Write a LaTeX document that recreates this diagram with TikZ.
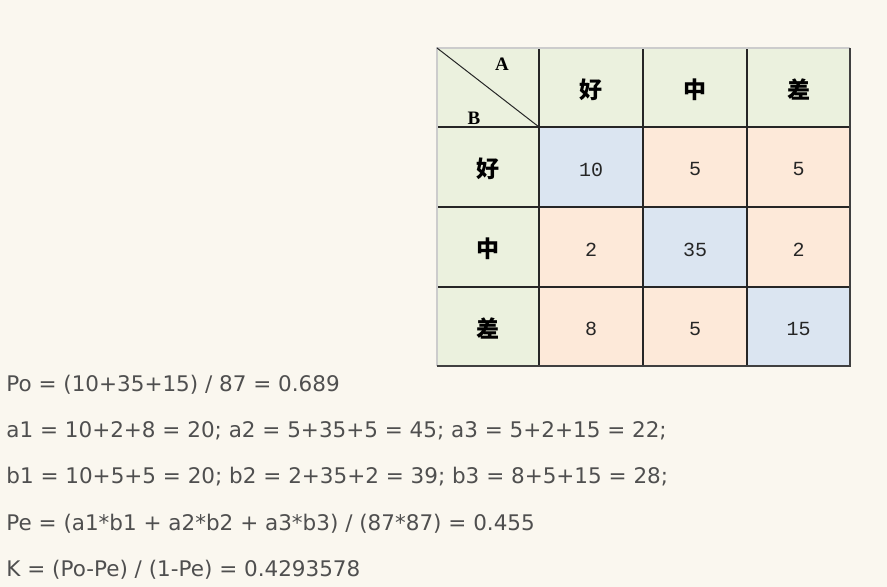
\documentclass[tikz,border=0pt]{standalone}
\usepackage{fontspec}
\setmainfont{DejaVu Sans}
\newfontfamily\cjk{Noto Sans CJK SC}
\newfontfamily\numfont{Liberation Mono}
\newfontfamily\cornerfont{Liberation Serif}
\definecolor{paper}{HTML}{FAF7EF}
\definecolor{headgreen}{HTML}{EBF1DE}
\definecolor{diagblue}{HTML}{DBE5F1}
\definecolor{offpeach}{HTML}{FDE9D9}
\definecolor{formulagray}{HTML}{4F4F4F}

\begin{document}
\begin{tikzpicture}[x=0.5pt, y=-0.5pt,
    grid/.style={black!85, line width=0.6pt},
    head/.style={font=\cjk\bfseries\fontsize{11.5pt}{11.5pt}\selectfont},
    corner/.style={font=\cornerfont\bfseries\fontsize{9.5pt}{9.5pt}\selectfont, inner sep=0pt},
    count/.style={font=\numfont\fontsize{10pt}{10pt}\selectfont, text=black!85},
    formula/.style={anchor=base west, inner sep=0pt, text=formulagray,
      font=\fontsize{10.75pt}{10.75pt}\selectfont}]
  \fill[paper] (0,0) rectangle (887,587);

  % cells
  \fill[headgreen] (437,48) rectangle (850,127);
  \fill[headgreen] (437,127) rectangle (539,366);
  \fill[diagblue] (539,127) rectangle (643,207) (643,207) rectangle (747,287) (747,287) rectangle (850,366);
  \fill[offpeach] (643,127) rectangle (850,207);
  \fill[offpeach] (539,207) rectangle (643,287) (747,207) rectangle (850,287);
  \fill[offpeach] (539,287) rectangle (747,366);

  % grid
  \foreach \x in {539,643,747} \draw[grid] (\x,48) -- (\x,366);
  \foreach \y in {127,207,287} \draw[grid] (437,\y) -- (850,\y);
  \draw[gray!40, line width=1pt] (437,366) -- (437,48) -- (850,48);
  \draw[black!75, line width=0.8pt] (850,48) -- (850,366) -- (437,366);
  \draw[black!85, line width=0.5pt] (437,48) -- (539,127);

  \node[corner] (A) at (502,64) {A};
  \node[corner] (B) at (474,118) {B};

  \node[head] (colgood) at (591,89.5) {好};
  \node[head] (colmid)  at (695,89.5) {中};
  \node[head] (colbad)  at (798.5,89.5) {差};
  \node[head] (rowgood) at (488,169) {好};
  \node[head] (rowmid)  at (488,249) {中};
  \node[head] (rowbad)  at (488,328.5) {差};

  \node[count] (c11) at (591,169.5) {10};
  \node[count] (c12) at (695,169.5) {5};
  \node[count] (c13) at (798.5,169.5) {5};
  \node[count] (c21) at (591,249.5) {2};
  \node[count] (c22) at (695,249.5) {35};
  \node[count] (c23) at (798.5,249.5) {2};
  \node[count] (c31) at (591,329) {8};
  \node[count] (c32) at (695,329) {5};
  \node[count] (c33) at (798.5,329) {15};

  % formulas
  \node[formula] (po) at (6,391) {Po = (10+35+15) / 87 = 0.689};
  \node[formula] (asum) at (6,437.4) {a1 = 10+2+8 = 20; a2 = 5+35+5 = 45; a3 = 5+2+15 = 22;};
  \node[formula] (bsum) at (6,483.8) {b1 = 10+5+5 = 20; b2 = 2+35+2 = 39; b3 = 8+5+15 = 28;};
  \node[formula] (pe) at (6,530.2) {Pe = (a1*b1 + a2*b2 + a3*b3) / (87*87) = 0.455};
  \node[formula] (kappa) at (6,576.6) {K = (Po-Pe) / (1-Pe) = 0.4293578};
\end{tikzpicture}
\end{document}
